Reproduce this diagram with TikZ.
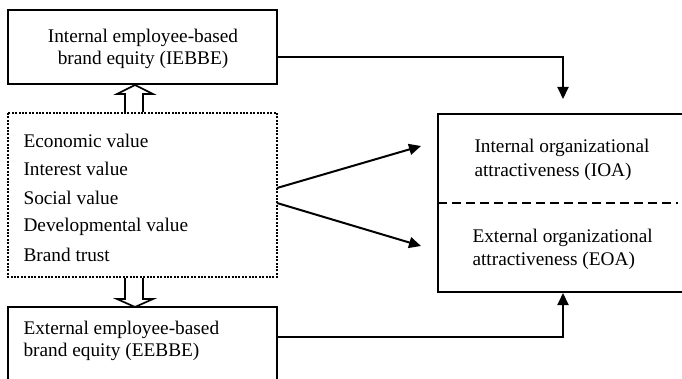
\documentclass[tikz,border=0pt]{standalone}
\usepackage{fontspec}
\setmainfont{Liberation Serif}
\usetikzlibrary{arrows.meta}
\begin{document}
\begin{tikzpicture}[x=1pt,y=-1pt,
  txt/.style={font=\fontsize{19.3}{28}\selectfont},
  solidbox/.style={draw=black,line width=2.4pt},
  conn/.style={line width=2pt,-{Triangle[length=12pt,width=11pt]}},
  hollow/.style={draw=black,fill=white,line width=1.7pt,line join=miter}]
\useasboundingbox (0,0) rectangle (682,379);
\begin{scope}
\clip (0,0) rectangle (682,379);
% boxes
\draw[solidbox] (8,10) rectangle (277,84);
\coordinate (topbox-e) at (277,57);
\node[txt,anchor=center] (iebbe1) at (143,38) {Internal employee-based};
\node[txt,anchor=center] (iebbe2) at (143,60) {brand equity (IEBBE)};
\draw[line width=2.2pt,dash pattern=on 2pt off 1.4pt] (8,113) rectangle (277,277);
\node[txt,anchor=west] (v1) at (20,141) {Economic value};
\node[txt,anchor=west] (v2) at (20,169) {Interest value};
\node[txt,anchor=west] (v3) at (20,198) {Social value};
\node[txt,anchor=west] (v4) at (20,227) {Developmental value};
\node[txt,anchor=west] (v5) at (20,255) {Brand trust};
\draw[solidbox] (8,307) rectangle (277,395);
\node[txt,anchor=west] (eebbe1) at (20,330) {External employee-based};
\node[txt,anchor=west] (eebbe2) at (20,352) {brand equity (EEBBE)};
\draw[solidbox] (438,114) rectangle (700,292);
\draw[line width=2.8pt,dash pattern=on 9pt off 5pt] (438,203) -- (678,203);
\node[txt,anchor=west] (ioa1) at (471,148) {Internal organizational};
\node[txt,anchor=west] (ioa2) at (471,172) {attractiveness (IOA)};
\node[txt,anchor=west] (eoa1) at (469,238) {External organizational};
\node[txt,anchor=west] (eoa2) at (469,261) {attractiveness (EOA)};
% connectors
\coordinate (a1s) at (277,188);
\coordinate (a1e) at (421,146);
\coordinate (a2s) at (277,203);
\coordinate (a2e) at (421,246);
\draw[conn] (a1s) -- (a1e);
\draw[conn] (a2s) -- (a2e);
\coordinate (t1) at (563,57);
\coordinate (t2) at (563,99);
\draw[conn] (topbox-e) -- (t1) -- (t2);
\coordinate (b0) at (277,337);
\coordinate (b1) at (563,337);
\coordinate (b2) at (563,293);
\draw[conn] (b0) -- (b1) -- (b2);
% hollow arrows
\draw[hollow] (125,112) -- (125,94) -- (117,94) -- (135,85) -- (153,94) -- (143,94) -- (143,112);
\draw[hollow] (125,278) -- (125,299) -- (117,299) -- (135,307) -- (153,299) -- (143,299) -- (143,278);
\end{scope}
\end{tikzpicture}
\end{document}
